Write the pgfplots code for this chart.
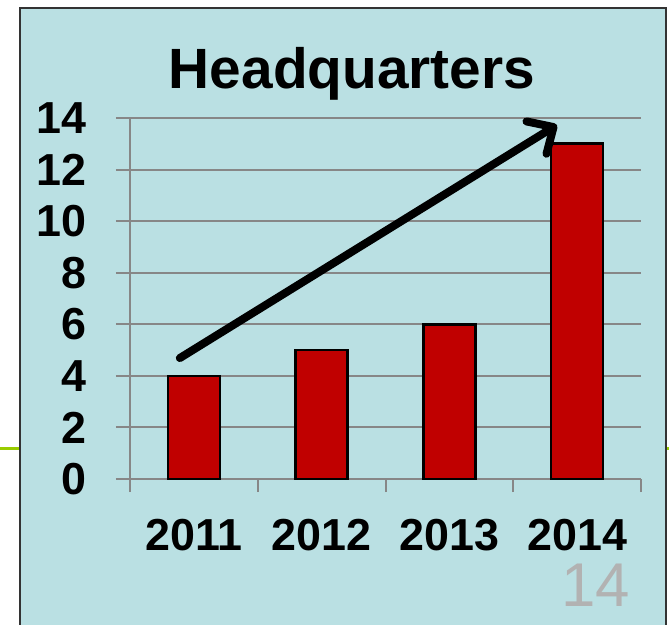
\documentclass[border=0pt]{standalone}
\usepackage{pgfplots}
\pgfplotsset{compat=1.18}
\usepackage{fontspec}
\setmainfont{Liberation Sans}
\usetikzlibrary{arrows.meta}
\definecolor{bgblue}{RGB}{186,224,227}
\definecolor{barred}{RGB}{192,0,0}
\definecolor{gridgray}{RGB}{135,135,135}
\definecolor{greenline}{RGB}{153,204,0}
\definecolor{pagegray}{RGB}{178,178,178}
\begin{document}
\begin{tikzpicture}
\path[use as bounding box] (0,0) rectangle (669bp,-625bp);
\fill[white] (0,0) rectangle (669bp,-625bp);
\draw[line width=3bp, greenline] (0,-448bp) -- (20bp,-448bp);
\draw[line width=3bp, greenline] (666bp,-448bp) -- (669bp,-448bp);
\fill[bgblue] (20bp,-8bp) rectangle (666bp,-640bp);
\draw[line width=1.6bp, black!80] (20bp,-640bp) -- (20bp,-8bp) -- (666bp,-8bp) -- (666bp,-640bp);
\node[anchor=base, inner sep=0pt, font=\fontsize{57}{60}\selectfont\bfseries] at (352bp,-88bp) {Headquarters};
\node[anchor=base east, inner sep=0pt, text=pagegray, font=\fontsize{62}{64}\selectfont] at (630bp,-606bp) {14};
\begin{axis}[
  at={(130bp,-479bp)}, anchor=south west,
  scale only axis, width=511bp, height=361bp,
  xmin=-0.5, xmax=3.5, ymin=0, ymax=14,
  axis x line=bottom, axis y line=left,
  axis line style={-, draw=gridgray, line width=2bp},
  ytick={0,2,...,14},
  ymajorgrids,
  grid style={draw=gridgray, line width=2bp},
  major tick length=14bp,
  minor tick length=13bp,
  tick align=outside,
  ytick style={draw=gridgray, line width=2bp},
  xtick={0,1,2,3},
  xticklabels={2011,2012,2013,2014},
  xtick style={draw=none},
  minor xtick={-0.5,0.5,1.5,2.5,3.5},
  minor x tick style={draw=gridgray, line width=2bp},
  /pgf/number format/assume math mode=true,
  ticklabel style={font=\fontsize{45}{45}\selectfont\bfseries, inner sep=0pt},
  yticklabel style={anchor=east, xshift=-29bp},
  xticklabel style={anchor=base, yshift=-57bp},
  clip=false,
]
\addplot[ybar, bar width=52bp, fill=barred, draw=black, line width=2.6bp] coordinates {(0,4) (1,5) (2,6) (3,13)};
\addplot[line width=8bp, black, line cap=round, -{Straight Barb[length=20bp, width=38bp, round]}] coordinates {(-0.11,4.69) (2.842,13.73)};
\end{axis}
\end{tikzpicture}
\end{document}
